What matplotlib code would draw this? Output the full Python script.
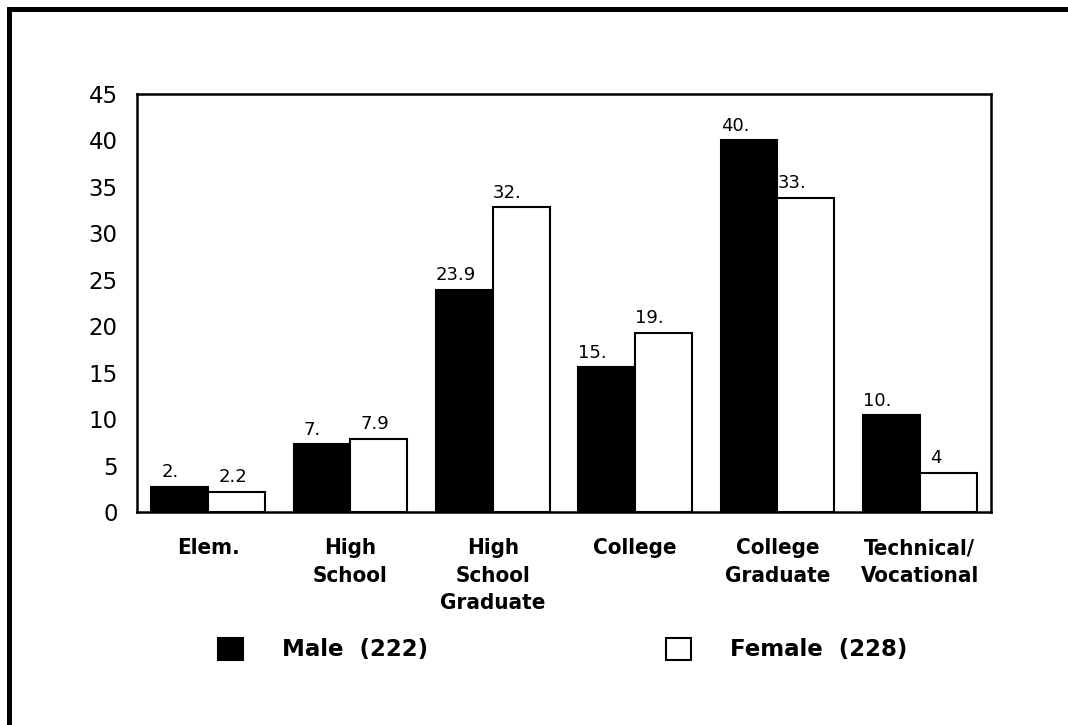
import numpy as np
import matplotlib
matplotlib.use("Agg")
import matplotlib.pyplot as plt
from matplotlib.lines import Line2D

# Education level by sex (percent)
categories = ["Elem.", "High\nSchool", "High\nSchool\nGraduate", "College",
              "College\nGraduate", "Technical/\nVocational"]
male = [2.7, 7.3, 23.9, 15.6, 40.0, 10.4]
female = [2.2, 7.9, 32.8, 19.3, 33.8, 4.2]
male_labels = ["2.", "7.", "23.9", "15.", "40.", "10."]
female_labels = ["2.2", "7.9", "32.", "19.", "33.", "4"]
yticks = [0, 5, 10, 15, 20, 25, 30, 35, 40, 45]
series_names = ["Male  (222)", "Female  (228)"]

W, H = 1068, 725
fig = plt.figure(figsize=(W / 100, H / 100), dpi=100)
ax = fig.add_axes([137 / W, 1 - 512 / H, (991 - 137) / W, (512 - 94) / H])

x = np.arange(len(categories))
width = 0.4
bm = ax.bar(x - width / 2, male, width, color="black", edgecolor="black", linewidth=1.5)
bf = ax.bar(x + width / 2, female, width, color="white", edgecolor="black", linewidth=1.5)

ax.set_xlim(-0.5, len(categories) - 0.5)
ax.set_ylim(0, 45)
ax.set_yticks(yticks)
ax.set_yticklabels([str(t) for t in yticks], fontsize=16.5, family="DejaVu Sans")
ax.set_xticks(x)
ax.set_xticklabels(categories, fontsize=16, fontweight="bold",
                   family="DejaVu Sans", fontstretch="condensed",
                   linespacing=1.45, va="top")
ax.tick_params(axis="both", length=0)
ax.tick_params(axis="y", pad=14)
ax.tick_params(axis="x", pad=19)
for s in ax.spines.values():
    s.set_linewidth(1.8)

# value labels, one-digit numbers nudged right like a fixed-width field
for bars, vals, labs in [(bm, male, male_labels), (bf, female, female_labels)]:
    for b, v, lab in zip(bars, vals, labs):
        shift = 0 if v >= 10 else 0.07
        ax.text(b.get_x() + shift, v + 0.6, lab, ha="left", va="bottom",
                fontsize=13, family="DejaVu Sans")

leg = ax.legend([bm, bf], series_names, loc="upper left",
                bbox_to_anchor=(197 / W, 1 - 617 / H), bbox_transform=fig.transFigure,
                ncol=2, frameon=False, handlelength=1.1, handleheight=1.1,
                handletextpad=1.7, columnspacing=10.4,
                prop={"family": "DejaVu Sans", "weight": "bold", "size": 16.5})

# page border along top and left edges
fig.add_artist(Line2D([8.5 / W, 8.5 / W], [0, 1 - 8.5 / H], color="black", linewidth=3.6,
                      transform=fig.transFigure, solid_capstyle="projecting"))
fig.add_artist(Line2D([8.5 / W, 1], [1 - 8.5 / H, 1 - 8.5 / H], color="black", linewidth=3.6,
                      transform=fig.transFigure, solid_capstyle="projecting"))

fig.savefig("out.png", dpi=100)
